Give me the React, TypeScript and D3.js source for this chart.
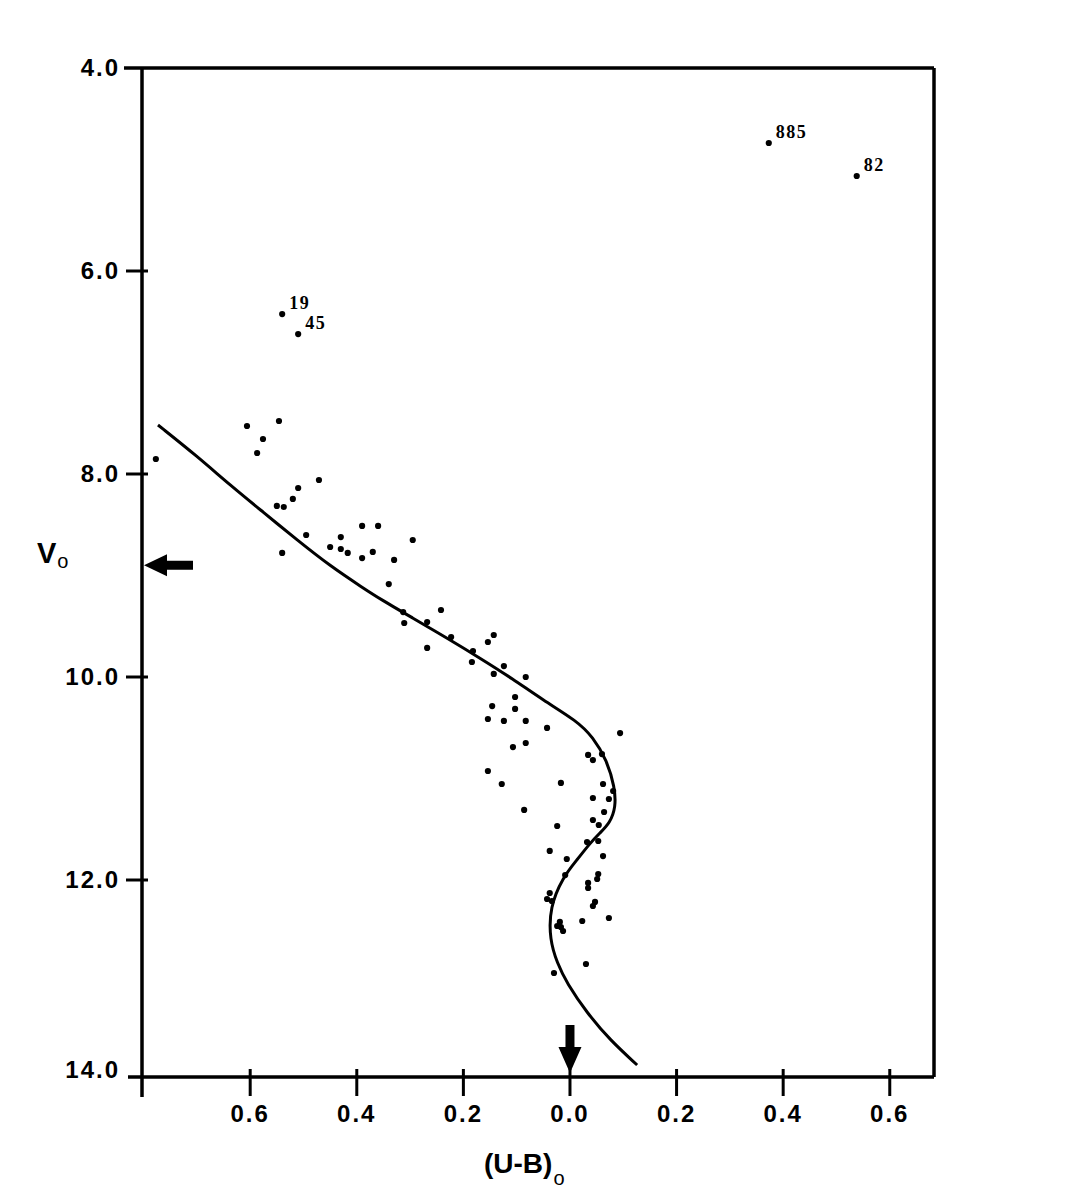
import React from 'react'
import * as d3 from 'd3'

// (U-B)o colour index (left side negative) and Vo magnitude of cluster stars
const starUB = [
  -0.777, -0.606, -0.546, -0.576, -0.587, -0.471, -0.510, -0.520, -0.550, -0.537,
  -0.495, -0.540, -0.430, -0.450, -0.430, -0.417, -0.390, -0.360, -0.390, -0.370,
  -0.295, -0.330, -0.340, -0.313, -0.311, -0.242, -0.268, -0.268, -0.223, -0.182,
  -0.184, -0.143, -0.154, -0.124, -0.143, -0.083, -0.103, -0.146, -0.103, -0.154,
  -0.124, -0.083, -0.043, -0.107, -0.083, 0.094, 0.034, 0.043, 0.060, -0.154,
  -0.128, -0.017, 0.062, 0.081, 0.043, 0.073, -0.086, 0.064, 0.043, 0.054,
  -0.024, 0.053, 0.032, -0.038, 0.062, -0.006, 0.053, -0.009, 0.051, 0.034,
  0.034, -0.038, -0.043, -0.034, 0.047, 0.043, 0.073, 0.023, -0.019, -0.024,
  -0.017, -0.013, 0.030, -0.030
]
const starV = [
  7.852, 7.527, 7.478, 7.655, 7.793, 8.059, 8.138, 8.246, 8.315, 8.325,
  8.601, 8.778, 8.621, 8.719, 8.739, 8.778, 8.512, 8.512, 8.828, 8.768,
  8.650, 8.847, 9.084, 9.360, 9.468, 9.340, 9.458, 9.714, 9.606, 9.744,
  9.852, 9.586, 9.655, 9.892, 9.970, 10.000, 10.197, 10.286, 10.315, 10.414,
  10.433, 10.433, 10.502, 10.690, 10.650, 10.552, 10.768, 10.818, 10.759, 10.926,
  11.054, 11.044, 11.054, 11.123, 11.192, 11.202, 11.310, 11.330, 11.409, 11.458,
  11.468, 11.616, 11.626, 11.714, 11.764, 11.793, 11.941, 11.951, 11.990, 12.030,
  12.081, 12.132, 12.193, 12.213, 12.223, 12.264, 12.386, 12.416, 12.426, 12.467,
  12.477, 12.518, 12.853, 12.944
]

// labelled stars
const namedStars = ['885', '82', '19', '45']
const namedUB = [0.373, 0.538, -0.540, -0.510]
const namedV = [4.739, 5.064, 6.424, 6.621]

// fitted main sequence curve
const curveUB = [
  -0.773, -0.700, -0.638, -0.576, -0.512, -0.450, -0.388, -0.356, -0.295, -0.231,
  -0.169, -0.107, -0.051, 0.013, 0.043, 0.069, 0.084, 0.086, 0.075, 0.056,
  0.038, 0.013, -0.013, -0.038, -0.038, -0.024, -0.006, 0.032, 0.075, 0.126
]
const curveV = [
  7.517, 7.823, 8.108, 8.374, 8.650, 8.906, 9.123, 9.232, 9.419, 9.616,
  9.813, 10.020, 10.227, 10.433, 10.591, 10.818, 11.084, 11.281, 11.438, 11.537,
  11.635, 11.803, 11.970, 12.274, 12.609, 12.843, 13.046, 13.350, 13.624, 13.878
]

const xTicks = [-0.6, -0.4, -0.2, 0.0, 0.2, 0.4, 0.6]
const yTicks = [4, 6, 8, 10, 12, 14]

// arrows marking the cut-off
const arrowV = 8.9
const arrowUB = 0.0

const W = 1089
const H = 1198

export default function App() {
  const x = d3.scaleLinear().domain([-0.803, 0.683]).range([142, 934])
  const y = d3.scaleLinear().domain([4, 12, 14]).range([68, 880, 1077])

  const x0 = x.range()[0]
  const x1 = x.range()[1]
  const yTop = y(4)
  const yBot = y(14)

  const line = d3.line<number>()
    .x(i => x(curveUB[i]))
    .y(i => y(curveV[i]))
    .curve(d3.curveBasis)
  const curvePath = line(curveUB.map((_, i) => i)) || ''

  const labelFont = 'Liberation Sans, Arial, sans-serif'

  // left arrow (points left to the axis)
  const ay = y(arrowV)
  const ax = x0 + 2
  const leftArrow = `M${ax},${ay} L${ax + 23},${ay - 11} L${ax + 23},${ay - 4.5} L${ax + 49},${ay - 4.5} L${ax + 49},${ay + 4.5} L${ax + 23},${ay + 4.5} L${ax + 23},${ay + 11} Z`

  // down arrow (points down to the axis)
  const bx = x(arrowUB)
  const by = yBot - 4
  const downArrow = `M${bx},${by} L${bx - 11.5},${by - 26} L${bx - 4.5},${by - 26} L${bx - 4.5},${by - 48} L${bx + 4.5},${by - 48} L${bx + 4.5},${by - 26} L${bx + 11.5},${by - 26} Z`

  return (
    <svg width={W} height={H} style={{ position: 'absolute', left: 0, top: 0, background: '#fff' }}>
      {/* frame */}
      <g stroke="#000" strokeWidth={3.5} fill="none">
        <line x1={x0 - 18} x2={x1} y1={yTop} y2={yTop} />
        <line x1={x0} x2={x0} y1={yTop} y2={yBot + 20} />
        <line x1={x1} x2={x1} y1={yTop} y2={yBot} />
        <line x1={x0 - 14} x2={x1} y1={yBot} y2={yBot} />
      </g>

      {/* y ticks */}
      {yTicks.map(t => (
        <g key={'y' + t}>
          {t !== 4 && t !== 14 && (
            <line x1={x0 - 16} x2={x0 + 6} y1={y(t)} y2={y(t)} stroke="#000" strokeWidth={3} />
          )}
          <text
            x={x0 - 22}
            y={y(t) - (t === 14 ? 7 : 0)}
            dy="0.35em"
            textAnchor="end"
            fontFamily={labelFont}
            fontWeight="bold"
            fontSize={24}
            letterSpacing={2}
          >
            {t.toFixed(1)}
          </text>
        </g>
      ))}

      {/* x ticks */}
      {xTicks.map(t => (
        <g key={'x' + t}>
          <line x1={x(t)} x2={x(t)} y1={yBot - 8} y2={yBot + 19} stroke="#000" strokeWidth={3} />
          <text
            x={x(t)}
            y={yBot + 45}
            textAnchor="middle"
            fontFamily={labelFont}
            fontWeight="bold"
            fontSize={24}
            letterSpacing={2}
          >
            {Math.abs(t).toFixed(1)}
          </text>
        </g>
      ))}

      {/* axis titles */}
      <text x={37} y={563} fontFamily={labelFont} fontWeight="bold" fontSize={29}>
        V
        <tspan dx={1} dy={5} fontSize={20} fontWeight="normal">o</tspan>
      </text>
      <text x={484} y={1173} fontFamily={labelFont} fontWeight="bold" fontSize={28}>
        (U-B)
        <tspan dx={1} dy={12} fontSize={20} fontWeight="normal">o</tspan>
      </text>

      {/* fitted curve */}
      <path d={curvePath} fill="none" stroke="#000" strokeWidth={3} />

      {/* stars */}
      {starUB.map((u, i) => (
        <circle key={'s' + i} cx={x(u)} cy={y(starV[i])} r={3.1} fill="#000" />
      ))}
      {namedStars.map((n, i) => (
        <g key={n}>
          <circle cx={x(namedUB[i])} cy={y(namedV[i])} r={3.1} fill="#000" />
          <text
            x={x(namedUB[i]) + 7}
            y={y(namedV[i]) - 5}
            fontFamily="Liberation Serif, Times New Roman, serif"
            fontWeight="bold"
            fontSize={18}
            letterSpacing={1.5}
          >
            {n}
          </text>
        </g>
      ))}

      {/* arrows */}
      <path d={leftArrow} fill="#000" />
      <path d={downArrow} fill="#000" />
    </svg>
  )
}
